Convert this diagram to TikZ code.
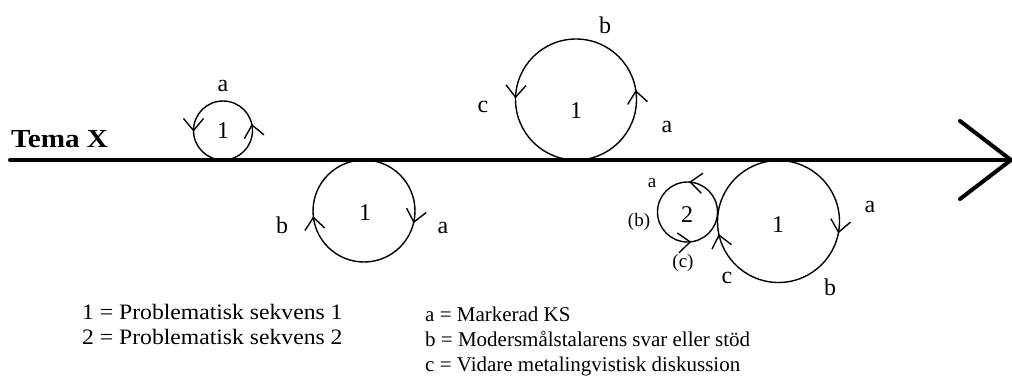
\documentclass[tikz,border=0pt]{standalone}
\usepackage{fontspec}
\usepackage{graphicx}
\setmainfont{Liberation Serif}
\usetikzlibrary{decorations.markings}
\tikzset{
  loopline/.style={line width=1.4pt},
  chev/.style={line width=1.4pt, line cap=butt},
  lbl/.style={font=\fontsize{24}{27}\selectfont, inner sep=0pt},
  slbl/.style={font=\fontsize{19}{22}\selectfont, inner sep=0pt},
  legend/.style={font=\fontsize{21}{24}\selectfont, inner sep=0pt, anchor=base west},
  ccwmarks/.style 2 args={postaction={decorate},decoration={markings,
     mark=at position #1 with {\draw[chev] (-12pt,10pt) -- (0pt,0pt) -- (-12pt,-10pt);},
     mark=at position #2 with {\draw[chev] (-12pt,10pt) -- (0pt,0pt) -- (-12pt,-10pt);}}},
}
\begin{document}
\begin{tikzpicture}[x=1pt,y=1pt]
\useasboundingbox (0,0) rectangle (1012,381);
% theme line
\coordinate (start) at (10,221);
\coordinate (tip) at (1011,221);
\coordinate (up) at (960,260);
\coordinate (dn) at (960,182);
\draw[line width=4pt, line cap=round] (start) -- (tip);
\draw[line width=4pt, line cap=round, line join=miter] (up) -- (tip) -- (dn);
\node[font=\bfseries\fontsize{26}{28}\selectfont, anchor=base west, inner sep=0pt] (tema) at (11,234) {\scalebox{1.12}[1]{Tema X}};

% circle A (small, above)
\coordinate (cA) at (223,250.5);
\draw[loopline, ccwmarks={0.03}{0.5}] (cA) ++(0:29.5) arc[start angle=0, end angle=360, radius=29.5];
\node[lbl] (A1) at (cA) {1};
\node[lbl] (Aa) at (223,295) {a};

% circle B (below, clockwise)
\coordinate (cB) at (364,170);
\draw[loopline, ccwmarks={0.035}{0.48}] (cB) ++(0:51) arc[start angle=0, end angle=-360, radius=51];
\node[lbl] (B1) at (365,168) {1};
\node[lbl] (Bb) at (282,156) {b};
\node[lbl] (Ba) at (443,153) {a};

% circle C (big, above)
\coordinate (cC) at (576,281.5);
\draw[loopline, ccwmarks={0.022}{0.494}] (cC) ++(0:60.5) arc[start angle=0, end angle=360, radius=60.5];
\node[lbl] (C1) at (576,270) {1};
\node[lbl] (Cb) at (605,356) {b};
\node[lbl] (Cc) at (483,274) {c};
\node[lbl] (Ca) at (667,254) {a};

% circle D (big, below, clockwise)
\coordinate (cD) at (778.5,159.5);
\draw[loopline, ccwmarks={0.028}{0.464}] (cD) ++(0:61) arc[start angle=0, end angle=-360, radius=61];
\node[lbl] (D1) at (778,156) {1};
\node[lbl] (Da) at (870,174) {a};
\node[lbl] (Db) at (830,94) {b};
\node[lbl] (Dc) at (727,103) {c};

% circle E (small, sequence 2)
\coordinate (cE) at (687.5,169);
\draw[loopline, ccwmarks={0.236}{0.764}] (cE) ++(0:30) arc[start angle=0, end angle=360, radius=30];
\node[lbl] (E2) at (687,166) {2};
\node[slbl] (Ea) at (652,198) {a};
\node[slbl] (Eb) at (639,159) {(b)};
\node[slbl] (Ec) at (683,118) {(c)};

% legend
\node[legend, font=\fontsize{22}{24}\selectfont] (L1) at (82,62) {\scalebox{1.075}[1]{1 = Problematisk sekvens 1}};
\node[legend, font=\fontsize{22}{24}\selectfont] (L2) at (82,37) {\scalebox{1.075}[1]{2 = Problematisk sekvens 2}};
\node[legend] (La) at (425,60) {a = Markerad KS};
\node[legend] (Lb) at (425,35) {b = Modersmålstalarens svar eller stöd};
\node[legend] (Lc) at (425,10) {c = Vidare metalingvistisk diskussion};
\end{tikzpicture}
\end{document}
